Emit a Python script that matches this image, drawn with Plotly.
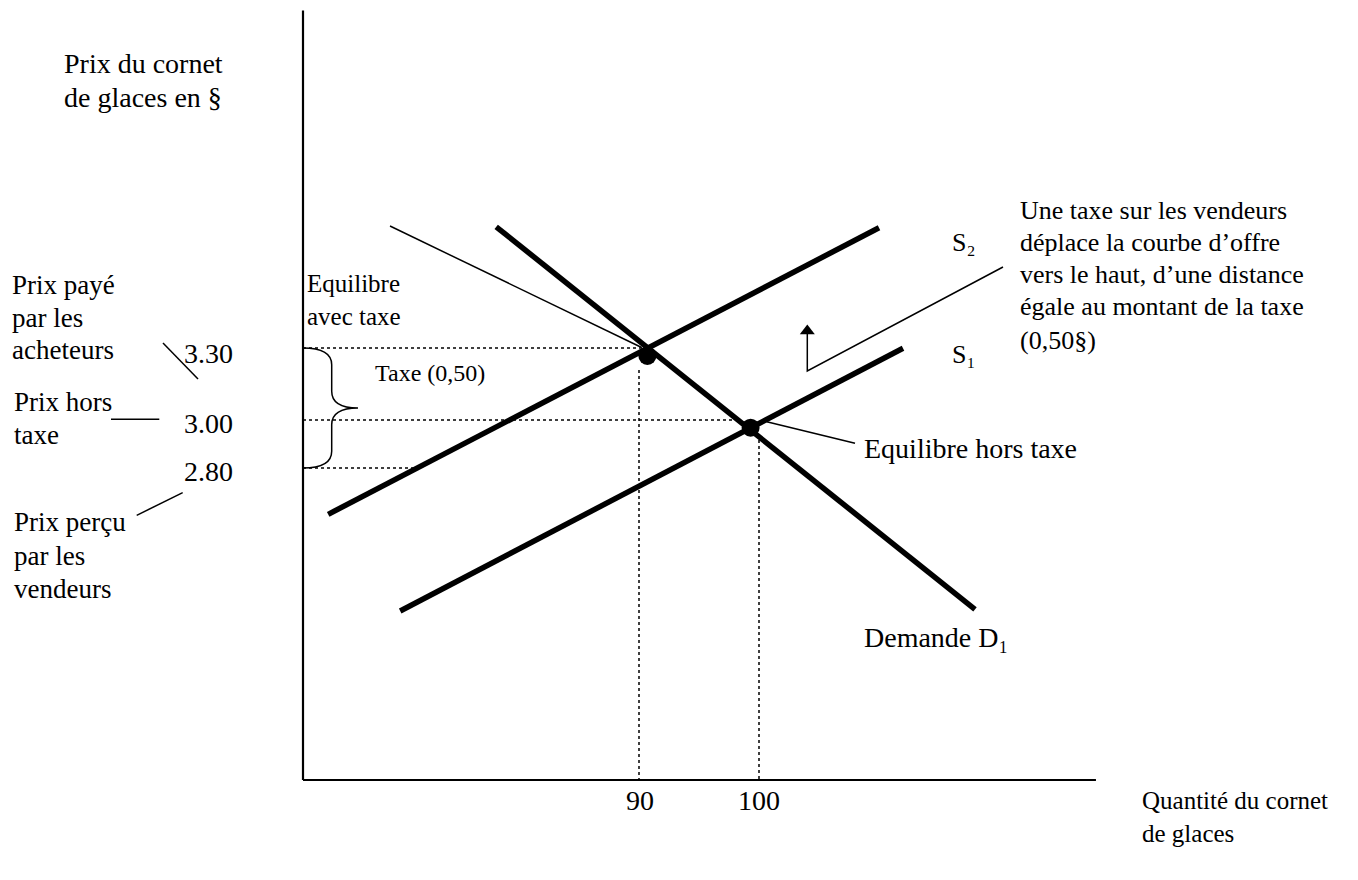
import plotly.graph_objects as go

# ---------------- data (quantity / price units) ----------------
q_eq_tax, q_eq = 90, 100
p_buyers, p_notax, p_sellers = 3.30, 3.00, 2.80
price_labels = ["3.30", "3.00", "2.80"]
qty_labels = ["90", "100"]

demand_q = [78.1, 118.0]
demand_p = [3.805, 2.211]
s2_q = [64.1, 110.0]
s2_p = [2.607, 3.801]
s1_q = [70.1, 112.0]
s1_p = [2.204, 3.299]
dots_q = [90.7, 99.3]
dots_p = [3.267, 2.968]

# axis extents
q0, q_end = 62.0, 128.08
p0, p_top = 1.5, 4.706

# canvas mapping: 12 px per quantity unit, 240 px per price unit
W, H = 1358, 880
OFF = 8  # page body margin
X_LEFT_PX = 303
Y_BOTTOM_PX = 780
def qx(px):
    return q0 + (px - X_LEFT_PX) / 12.0
def py(pyy):
    return p0 + (Y_BOTTOM_PX - pyy) / 240.0

FONT = "Liberation Serif"
FS = 26

fig = go.Figure()

def seg(xs, ys, width, dash=None):
    fig.add_trace(go.Scatter(x=xs, y=ys, mode="lines",
                             line=dict(color="black", width=width, dash=dash),
                             hoverinfo="skip", showlegend=False))

# axes
seg([q0, q0], [p_top, p0], 2.2)
seg([q0, q_end], [p0, p0], 2.2)

# dotted guides
seg([q0, 90.25], [p_buyers, p_buyers], 1.5, "dot")
seg([q0, 97.8], [p_notax, p_notax], 1.5, "dot")
seg([q0, 72.0], [p_sellers, p_sellers], 1.5, "dot")
seg([q_eq_tax, q_eq_tax], [py(370), p0], 1.5, "dot")
seg([q_eq, q_eq], [py(440), p0], 1.5, "dot")

# curves
seg(demand_q, demand_p, 5.5)
seg(s2_q, s2_p, 5.5)
seg(s1_q, s1_p, 5.5)

# equilibrium dots
fig.add_trace(go.Scatter(x=dots_q, y=dots_p, mode="markers",
                         marker=dict(color="black", size=18),
                         hoverinfo="skip", showlegend=False))

# thin pointer lines
seg([qx(390), 90.22], [py(226), 3.302], 1.5)            # Equilibre avec taxe
seg([qx(766.7), qx(855)], [py(421.7), py(443.3)], 1.5)  # Equilibre hors taxe
seg([qx(1003), qx(807.3), qx(807.3)], [py(267), py(371), py(334)], 1.5)  # shift annotation
seg([qx(163), qx(198)], [py(343), py(379)], 1.5)       # Prix payé
seg([qx(111), qx(159.3)], [py(419.3), py(419.3)], 1.5) # Prix hors taxe
seg([qx(182.7), qx(136.7)], [py(492.7), py(515.3)], 1.5)  # Prix perçu

# arrow head of the shift
fig.add_trace(go.Scatter(x=[qx(807.3)], y=[py(331)], mode="markers",
                         marker=dict(symbol="triangle-up", color="black", size=13),
                         hoverinfo="skip", showlegend=False))

# brace for the tax
p_mid = (p_buyers + p_sellers) / 2
bx1, bx2 = qx(331.7), qx(358)
d = 0.07
path = (f"M {q0},{p_buyers} Q {bx1},{p_buyers} {bx1},{p_buyers - d} "
        f"L {bx1},{p_mid + d} Q {bx1},{p_mid} {bx2},{p_mid} "
        f"Q {bx1},{p_mid} {bx1},{p_mid - d} "
        f"L {bx1},{p_sellers + d} Q {bx1},{p_sellers} {q0},{p_sellers}")
fig.add_shape(type="path", path=path, xref="x", yref="y",
              line=dict(color="black", width=1.5))

annotations = []
def txt(text, px, pyy, anchor="left", size=FS):
    annotations.append(dict(x=qx(px), y=py(pyy), xref="x", yref="y",
                            text=text, showarrow=False, xanchor=anchor,
                            yanchor="middle", font=dict(family=FONT, size=size, color="black")))

txt("Prix du cornet", 62, 63, size=28)
txt("de glaces en §", 62, 97, size=28)
txt("Prix payé", 10, 285, size=27)
txt("par les", 10, 318, size=27)
txt("acheteurs", 10, 350, size=27)
txt(price_labels[0], 235, 353, "right", size=28)
txt(price_labels[1], 235, 423, "right", size=28)
txt(price_labels[2], 235, 471, "right", size=28)
txt("Prix hors", 12, 402, size=27)
txt("taxe", 12, 435, size=27)
txt("Prix perçu", 12, 522, size=27)
txt("par les", 12, 556, size=27)
txt("vendeurs", 12, 589, size=27)
txt("Equilibre", 305, 283, size=25)
txt("avec taxe", 305, 316, size=25)
txt("Taxe (0,50)", 373, 373, size=24)
txt("S₂", 950, 242)
txt("S₁", 950, 354)
txt("Une taxe sur les vendeurs", 1018, 210)
txt("déplace la courbe d’offre", 1018, 242)
txt("vers le haut, d’une distance", 1018, 274)
txt("égale au montant de la taxe", 1018, 306)
txt("(0,50§)", 1018, 340)
txt("Equilibre hors taxe", 862, 448, size=28)
txt("Demande D₁", 862, 637, size=28)
txt(qty_labels[0], 640, 800, "center", size=28)
txt(qty_labels[1], 759, 800, "center", size=28)
txt("Quantité du cornet", 1140, 800, size=25)
txt("de glaces", 1140, 833, size=25)

FW, FH = W - 2 * OFF, H - 2 * OFF
fig.update_layout(
    width=FW, height=FH,
    margin=dict(l=0, r=0, t=0, b=0),
    paper_bgcolor="white", plot_bgcolor="white",
    font=dict(family=FONT, size=FS, color="black"),
    xaxis=dict(range=[qx(OFF), qx(OFF + FW)], visible=False, fixedrange=True),
    yaxis=dict(range=[py(OFF + FH), py(OFF)], visible=False, fixedrange=True),
    annotations=annotations,
    showlegend=False,
)

fig.write_html("out.html")
